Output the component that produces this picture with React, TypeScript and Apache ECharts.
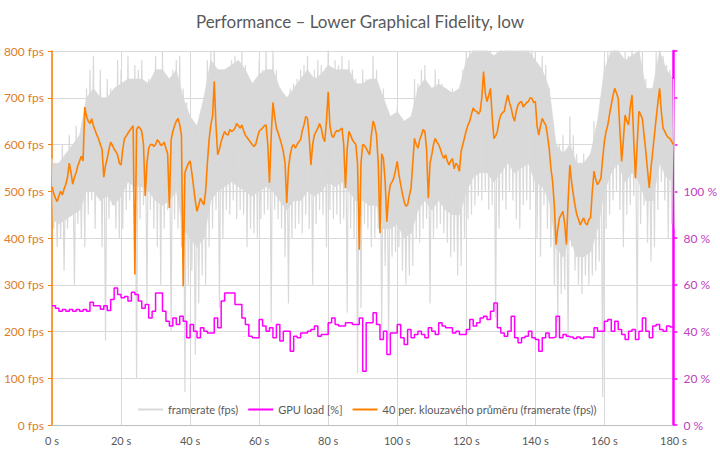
import React, { useEffect, useRef } from "react";
import * as echarts from "echarts";

const TITLE = "Performance – Lower Graphical Fidelity, low";
const LEGEND_NAMES = ["framerate (fps)", "GPU load [%]", "40 per. klouzavého průměru (framerate (fps))"];
const X_TICKS_MAX = 180;

// framerate spikes: one high and one low sample per second (t = 0..180)
const framerateHigh = [
  570, 560, 540, 600, 560, 620, 580, 640, 620, 650,
  720, 760, 790, 700, 760, 680, 740, 720, 700, 780,
  760, 720, 790, 740, 770, 760, 780, 700, 740, 730,
  790, 760, 800, 740, 700, 760, 780, 790, 720, 690,
  650, 620, 600, 640, 700, 780, 800, 820, 760, 740,
  760, 740, 780, 790, 760, 800, 770, 740, 730, 720,
  780, 760, 800, 740, 810, 760, 720, 700, 690, 720,
  730, 740, 760, 770, 790, 700, 760, 780, 770, 740,
  810, 760, 780, 770, 790, 720, 780, 760, 740, 700,
  760, 740, 730, 790, 760, 700, 720, 650, 640, 660,
  680, 660, 640, 620, 650, 740, 730, 760, 770, 680,
  720, 760, 740, 730, 720, 700, 720, 710, 700, 760,
  800, 820, 830, 810, 820, 840, 820, 830, 780, 800,
  810, 830, 840, 820, 800, 830, 820, 810, 830, 820,
  800, 760, 790, 770, 720, 650, 560, 600, 620, 560,
  660, 620, 580, 560, 580, 560, 580, 650, 640, 700,
  780, 800, 820, 840, 820, 720, 800, 790, 830, 700,
  810, 800, 740, 660, 720, 800, 840, 790, 770, 760,
  740,
];
const framerateLow = [
  420, 380, 400, 330, 420, 450, 300, 430, 400, 380,
  450, 480, 420, 500, 380, 180, 440, 470, 420, 400,
  420, 460, 480, 500, 100, 440, 470, 260, 460, 420,
  380, 300, 420, 460, 200, 440, 420, 380, 70, 300,
  330, 150, 260, 320, 300, 380, 420, 460, 250, 400,
  460, 450, 480, 440, 460, 450, 380, 420, 410, 400,
  440, 450, 460, 220, 460, 440, 420, 360, 260, 400,
  420, 430, 410, 450, 420, 300, 430, 460, 450, 380,
  460, 440, 450, 430, 440, 240, 420, 400, 110, 250,
  430, 420, 380, 400, 420, 200, 340, 180, 360, 370,
  380, 330, 300, 320, 340, 400, 390, 420, 440, 260,
  400, 420, 430, 410, 390, 360, 370, 320, 340, 400,
  440, 450, 470, 490, 480, 500, 460, 470, 230, 420,
  480, 460, 500, 480, 440, 420, 470, 480, 460, 500,
  400, 360, 470, 420, 380, 300, 220, 280, 290, 180,
  380, 330, 300, 280, 320, 300, 320, 330, 350, 60,
  420, 450, 480, 500, 460, 380, 450, 470, 490, 200,
  430, 470, 390, 350, 380, 460, 520, 480, 400, 430,
  420,
];

// dense core of the framerate cloud, every 2 seconds (t = 0, 2, ..., 180)
const coreTop = [
  560, 560, 580, 600, 620, 700, 720, 700, 700, 720,
  730, 740, 740, 740, 730, 760, 760, 740, 760, 700,
  660, 640, 700, 780, 760, 760, 770, 780, 760, 730,
  750, 760, 760, 720, 700, 720, 740, 760, 740, 750,
  770, 760, 760, 760, 730, 730, 740, 740, 700, 660,
  670, 650, 660, 720, 740, 720, 730, 720, 710, 720,
  780, 800, 800, 800, 790, 800, 800, 800, 800, 800,
  780, 760, 720, 600, 580, 600, 560, 560, 580, 650,
  760, 800, 800, 780, 790, 800, 720, 720, 800, 760,
  740,
];
const coreBottom = [
  440, 430, 440, 450, 460, 500, 500, 480, 490, 470,
  490, 520, 510, 510, 500, 480, 470, 480, 500, 420,
  400, 380, 400, 480, 500, 510, 520, 510, 500, 490,
  500, 510, 500, 480, 460, 480, 480, 500, 490, 500,
  520, 510, 520, 500, 480, 480, 470, 470, 420, 420,
  430, 400, 410, 460, 480, 460, 480, 460, 450, 450,
  500, 530, 540, 540, 520, 540, 560, 540, 550, 560,
  520, 510, 480, 380, 360, 400, 360, 360, 370, 420,
  500, 540, 560, 520, 540, 520, 480, 480, 560, 530,
  520,
];

// 40-sample moving average of framerate, read at whole seconds (t = 0..180)
const movingAvg = [
  510, 485, 490, 492, 515, 560, 515, 540, 565, 565,
  660, 645, 640, 620, 600, 530, 570, 605, 590, 578,
  556, 613, 624, 635, 322, 638, 628, 490, 592, 600,
  600, 606, 600, 592, 464, 628, 650, 642, 297, 550,
  565, 510, 457, 485, 471, 560, 642, 735, 578, 606,
  628, 620, 628, 635, 640, 642, 620, 610, 600, 600,
  628, 635, 642, 518, 690, 635, 613, 585, 475, 578,
  600, 600, 610, 642, 656, 556, 620, 635, 635, 606,
  713, 620, 625, 628, 635, 507, 628, 610, 600, 375,
  600, 592, 578, 650, 620, 410, 570, 435, 514, 528,
  564, 514, 478, 471, 507, 613, 592, 620, 628, 485,
  578, 613, 600, 578, 578, 556, 570, 560, 543, 600,
  630, 650, 678, 671, 671, 756, 692, 720, 613, 628,
  663, 671, 706, 678, 650, 685, 692, 685, 692, 699,
  692, 620, 656, 642, 592, 521, 386, 443, 457, 386,
  556, 493, 450, 428, 443, 428, 443, 543, 514, 528,
  606, 642, 685, 720, 699, 564, 663, 642, 706, 528,
  671, 656, 585, 507, 585, 656, 720, 635, 620, 613,
  600,
];
// same moving average, read at half seconds (t = 0.5..179.5)
const movingAvgHalf = [
  495, 478, 500, 505, 530, 540, 530, 555, 575, 680,
  650, 655, 630, 612, 590, 555, 590, 598, 585, 560,
  590, 618, 630, 640, 632, 635, 600, 560, 600, 596,
  610, 598, 605, 580, 610, 640, 656, 620, 540, 560,
  540, 480, 470, 478, 500, 610, 660, 640, 590, 618,
  622, 632, 630, 645, 635, 630, 615, 605, 596, 615,
  632, 640, 600, 620, 660, 625, 600, 560, 550, 595,
  592, 606, 630, 660, 615, 600, 628, 645, 615, 650,
  640, 615, 630, 632, 600, 590, 620, 605, 560, 560,
  598, 585, 620, 640, 560, 580, 520, 490, 520, 545,
  535, 495, 468, 490, 560, 600, 610, 632, 590, 560,
  600, 605, 590, 570, 565, 565, 548, 555, 585, 615,
  642, 665, 672, 665, 700, 710, 705, 660, 618, 650,
  668, 690, 690, 660, 672, 690, 680, 690, 700, 690,
  640, 640, 648, 620, 550, 470, 420, 450, 430, 480,
  520, 470, 440, 436, 432, 440, 500, 525, 520, 570,
  628, 665, 705, 710, 630, 610, 650, 680, 610, 600,
  664, 620, 545, 550, 620, 690, 670, 628, 615, 606,
];

// GPU load in %, per second
const gpuLoad = [
  51, 50, 48.7, 49.4, 48.7, 49.4, 48.7, 49.4, 48.7, 49.4,
  48.7, 52.5, 51, 51, 49.5, 51, 49, 53.7, 58.6, 55.8,
  54.4, 55, 53, 56.8, 55.8, 53, 50, 51.5, 45.8, 48.7,
  56.5, 56.5, 48.7, 44.4, 42.3, 45.8, 43, 46.5, 44.4, 37.3,
  43, 40.1, 37.3, 41.6, 40.1, 39.4, 39.4, 45.8, 41.6, 53,
  56.5, 56.5, 56.5, 51.5, 51.5, 45.8, 43, 38, 37.3, 37.3,
  45.1, 42.3, 40.1, 41.6, 37.3, 43, 35.9, 40.1, 40.1, 31.6,
  38, 37.3, 39.4, 39.4, 40.1, 40.9, 42.3, 38, 38.7, 38.7,
  43.7, 45.8, 43, 42.3, 42.3, 43.7, 43.7, 43, 43, 45.8,
  23, 43.7, 43.7, 48, 43, 36.6, 40.1, 30.2, 39.4, 39.4,
  43, 37.3, 34.4, 40.9, 37.3, 38.7, 40.1, 38.7, 37.3, 41.6,
  40.1, 38.7, 43.7, 42.3, 41.6, 41.6, 39.4, 40.1, 38.7, 38.7,
  40.9, 45.1, 42.3, 43.7, 45.8, 46.5, 45.1, 48.7, 52.2, 41.6,
  39.4, 38, 40.1, 46.5, 37.3, 35.2, 37.3, 38, 40.1, 37.3,
  36.6, 31.6, 37.3, 39.4, 37.3, 37.6, 46.5, 37.3, 38.7, 38,
  37.6, 37, 37.6, 37, 37.6, 37.6, 37.3, 41.6, 40.1, 40.1,
  44.4, 45.1, 40.1, 44.4, 40.9, 38.7, 36.6, 40.1, 40.9, 36.6,
  40.1, 45.8, 40.1, 37.3, 42.3, 43, 40.9, 40.1, 42.3, 41.9,
  41.9,
];

const GRAY = "#d9d9d9";
const TEXT = "#595959";
const ORANGE = "#ff8000";
const MAGENTA = "#ff00ff";

export default function App() {
  const ref = useRef<HTMLDivElement | null>(null);

  useEffect(() => {
    document.body.style.margin = "0";
    if (!ref.current) return;
    const chart = echarts.init(ref.current, null, { renderer: "svg" });

    const frameData: [number, number][] = [];
    framerateHigh.forEach((h, i) => {
      frameData.push([i, h]);
      frameData.push([i + 0.5, framerateLow[i]]);
    });
    // one polygon per 2-second slice of the dense core
    const coreData: number[][] = [];
    for (let i = 0; i < coreTop.length - 1; i++) {
      coreData.push([i * 2, coreBottom[i], coreTop[i], i * 2 + 2, coreBottom[i + 1], coreTop[i + 1]]);
    }
    const avgData: [number, number][] = [];
    movingAvg.forEach((v, i) => {
      avgData.push([i, v]);
      if (i < movingAvgHalf.length) avgData.push([i + 0.5, movingAvgHalf[i]]);
    });
    const gpuData = gpuLoad.map((v, i) => [i, v]);

    const font = "Lato, 'Open Sans', sans-serif";

    chart.setOption({
      animation: false,
      backgroundColor: "#ffffff",
      textStyle: { fontFamily: font },
      title: {
        text: TITLE,
        left: "center",
        top: 8,
        textStyle: { color: TEXT, fontSize: 17, fontWeight: "normal", fontFamily: font },
      },
      legend: {
        left: 133,
        top: 399,
        itemWidth: 25,
        itemHeight: 2,
        itemGap: 10,
        icon: "rect",
        textStyle: { color: TEXT, fontSize: 11, fontFamily: font },
        data: LEGEND_NAMES,
      },
      grid: { left: 52, right: 40, top: 51, bottom: 30, containLabel: false },
      xAxis: {
        type: "value",
        min: 0,
        max: X_TICKS_MAX,
        interval: 20,
        axisLine: { show: true, lineStyle: { color: "#bfbfbf", width: 1 } },
        axisTick: { show: false },
        axisLabel: { color: TEXT, fontSize: 11, formatter: "{value} s", margin: 10 },
        splitLine: { show: true, lineStyle: { color: GRAY, width: 1 } },
      },
      yAxis: [
        {
          type: "value",
          min: 0,
          max: 800,
          interval: 100,
          position: "left",
          axisLine: { show: true, lineStyle: { color: ORANGE, width: 1.5 } },
          axisTick: { show: true, length: 4, lineStyle: { color: ORANGE } },
          axisLabel: { color: "#e07b28", fontSize: 12, formatter: "{value} fps", margin: 8 },
          splitLine: { show: true, lineStyle: { color: GRAY, width: 1 } },
        },
        {
          type: "value",
          min: 0,
          max: 160,
          interval: 20,
          position: "right",
          axisLine: { show: true, lineStyle: { color: MAGENTA, width: 2.5 } },
          axisTick: { show: true, length: 4, lineStyle: { color: MAGENTA, width: 1.5 } },
          axisLabel: {
            color: "#c040c0",
            fontSize: 12,
            margin: 10,
            formatter: (v: number) => (v <= 100 ? `${v} %` : ""),
          },
          splitLine: { show: false },
        },
      ],
      series: [
        {
          name: "framerate core",
          type: "custom",
          data: coreData,
          silent: true,
          encode: { x: [0, 3], y: [1, 2, 4, 5] },
          renderItem: (params: any, api: any) => {
            const p1 = api.coord([api.value(0), api.value(1)]);
            const p2 = api.coord([api.value(3), api.value(4)]);
            const p3 = api.coord([api.value(3), api.value(5)]);
            const p4 = api.coord([api.value(0), api.value(2)]);
            return {
              type: "polygon",
              shape: { points: [p1, p2, p3, p4] },
              style: { fill: GRAY, stroke: GRAY, lineWidth: 0.6 },
            };
          },
          z: 0,
        },
        {
          name: LEGEND_NAMES[0],
          type: "line",
          data: frameData,
          symbol: "none",
          clip: true,
          lineStyle: { color: GRAY, width: 1.2 },
          itemStyle: { color: GRAY },
          z: 1,
        },
        {
          name: LEGEND_NAMES[1],
          type: "line",
          yAxisIndex: 1,
          data: gpuData,
          step: "end",
          symbol: "none",
          lineStyle: { color: MAGENTA, width: 1.5 },
          itemStyle: { color: MAGENTA },
          z: 2,
        },
        {
          name: LEGEND_NAMES[2],
          type: "line",
          data: avgData,
          symbol: "none",
          lineStyle: { color: ORANGE, width: 1.6 },
          itemStyle: { color: ORANGE },
          z: 3,
        },
      ],
    });

    return () => chart.dispose();
  }, []);

  return (
    <div
      ref={ref}
      style={{ position: "fixed", left: 0, top: 0, width: 720, height: 455 }}
    />
  );
}
